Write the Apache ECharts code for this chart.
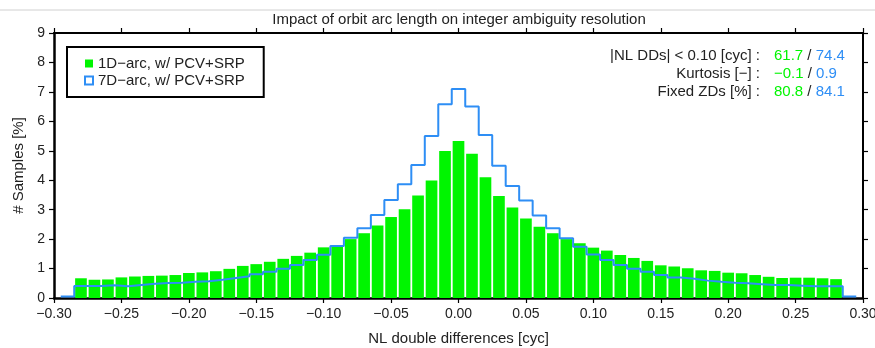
<!DOCTYPE html>
<html>
<head>
<meta charset="utf-8">
<script src="https://cdn.jsdelivr.net/npm/echarts@6/dist/echarts.min.js"></script>
<style>html,body{margin:0;padding:0;background:#fff;}#c{width:875px;height:348px;}</style>
</head>
<body>
<div id="c"></div>
<script>
// Bin centres (cyc) and sample percentages
const binWidth = 0.01;
const centers1D = [-0.28,-0.27,-0.26,-0.25,-0.24,-0.23,-0.22,-0.21,-0.20,-0.19,-0.18,-0.17,-0.16,-0.15,-0.14,-0.13,-0.12,-0.11,-0.10,-0.09,-0.08,-0.07,-0.06,-0.05,-0.04,-0.03,-0.02,-0.01,0.00,0.01,0.02,0.03,0.04,0.05,0.06,0.07,0.08,0.09,0.10,0.11,0.12,0.13,0.14,0.15,0.16,0.17,0.18,0.19,0.20,0.21,0.22,0.23,0.24,0.25,0.26,0.27,0.28];
const values1D = [0.67,0.62,0.63,0.70,0.73,0.75,0.76,0.78,0.85,0.87,0.91,0.99,1.09,1.15,1.23,1.33,1.43,1.54,1.72,1.76,2.00,2.20,2.46,2.75,3.01,3.48,3.99,4.99,5.33,4.90,4.10,3.46,3.07,2.70,2.42,2.20,2.00,1.86,1.71,1.61,1.46,1.36,1.26,1.11,1.07,1.01,0.94,0.92,0.86,0.84,0.78,0.72,0.68,0.69,0.69,0.67,0.64];
const centers7D = [-0.29,-0.28,-0.27,-0.26,-0.25,-0.24,-0.23,-0.22,-0.21,-0.20,-0.19,-0.18,-0.17,-0.16,-0.15,-0.14,-0.13,-0.12,-0.11,-0.10,-0.09,-0.08,-0.07,-0.06,-0.05,-0.04,-0.03,-0.02,-0.01,0.00,0.01,0.02,0.03,0.04,0.05,0.06,0.07,0.08,0.09,0.10,0.11,0.12,0.13,0.14,0.15,0.16,0.17,0.18,0.19,0.20,0.21,0.22,0.23,0.24,0.25,0.26,0.27,0.28,0.29];
const values7D = [0.05,0.41,0.41,0.43,0.40,0.44,0.48,0.51,0.52,0.55,0.57,0.62,0.68,0.74,0.81,0.89,0.99,1.12,1.29,1.47,1.77,2.05,2.37,2.82,3.33,3.86,4.52,5.50,6.58,7.10,6.50,5.54,4.49,3.80,3.31,2.80,2.37,2.03,1.74,1.48,1.29,1.12,0.99,0.89,0.78,0.70,0.65,0.59,0.55,0.52,0.50,0.47,0.44,0.44,0.42,0.40,0.40,0.40,0.05];
const seriesNames = ['1D\u2212arc, w/ PCV+SRP', '7D\u2212arc, w/ PCV+SRP'];
const statLabels = ['|NL DDs| < 0.10 [cyc] :', 'Kurtosis [\u2212] :', 'Fixed ZDs [%] :'];
const stats1D = ['61.7', '\u22120.1', '80.8'];
const stats7D = ['74.4', '0.9', '84.1'];
const xTicks = {min: -0.30, max: 0.30, interval: 0.05};
const yTicks = {min: 0, max: 9, interval: 1};

const GREEN = '#00f500';
const BLUE = '#2e8ef5';
const FONT = 'Liberation Sans, Arial, Helvetica, sans-serif';

const barData = centers1D.map((c, i) => [c, values1D[i]]);
const stepData = [];
centers7D.forEach((c, i) => {
  stepData.push([c - binWidth / 2, values7D[i]]);
  stepData.push([c + binWidth / 2, values7D[i]]);
});

const fmtX = v => {
  const s = Math.abs(v).toFixed(2);
  return (v < -1e-9 ? '\u2212' : '') + s;
};

const chart = echarts.init(document.getElementById('c'), null, {renderer: 'canvas'});

const axisLineStyle = {color: '#000', width: 2.5};
const tickStyle = {color: '#000', width: 1.2};

const graphics = [
  {type: 'line', shape: {x1: 0, y1: 10, x2: 875, y2: 10}, style: {stroke: '#d0d0d0', lineWidth: 1}, silent: true}
];
statLabels.forEach((t, i) => {
  graphics.push({
    type: 'text', x: 760, y: 56 + i * 18,
    style: {text: t, fill: '#222', font: '15px ' + FONT, textAlign: 'right', textVerticalAlign: 'middle'}
  });
  graphics.push({
    type: 'text', x: 774, y: 56 + i * 18,
    style: {
      text: '{g|' + stats1D[i] + '}{k| / }{b|' + stats7D[i] + '}',
      font: '15px ' + FONT, textAlign: 'left', textVerticalAlign: 'middle',
      rich: {
        g: {fill: GREEN, font: '15px ' + FONT},
        k: {fill: '#222', font: '15px ' + FONT},
        b: {fill: BLUE, font: '15px ' + FONT}
      }
    }
  });
});

chart.setOption({
  animation: false,
  backgroundColor: '#fff',
  title: {
    text: 'Impact of orbit arc length on integer ambiguity resolution',
    left: 454, top: 7, textAlign: 'center',
    textStyle: {fontSize: 15, fontWeight: 'normal', color: '#222', fontFamily: FONT}
  },
  grid: {left: 54, right: 12, top: 33, bottom: 50, outerBoundsMode: 'none', containLabel: false},
  legend: {
    orient: 'vertical', left: 67, top: 47,
    padding: [9, 19, 9, 17], itemGap: 2, itemWidth: 8, itemHeight: 8, itemTextGap: 12,
    borderColor: '#000', borderWidth: 2, backgroundColor: '#fff',
    textStyle: {fontSize: 15, color: '#222', fontFamily: FONT},
    data: [
      {name: seriesNames[0], icon: 'rect', itemStyle: {color: GREEN}},
      {name: seriesNames[1], icon: 'rect', itemStyle: {color: '#fff', borderColor: BLUE, borderWidth: 2}}
    ]
  },
  xAxis: [
    {
      type: 'value', position: 'bottom', min: xTicks.min, max: xTicks.max, interval: xTicks.interval,
      name: 'NL double differences [cyc]', nameLocation: 'middle', nameGap: 33,
      nameTextStyle: {fontSize: 15, color: '#222', fontFamily: FONT},
      axisLine: {show: true, onZero: false, lineStyle: axisLineStyle},
      axisTick: {show: true, length: 5, lineStyle: tickStyle},
      axisLabel: {formatter: fmtX, fontSize: 14, color: '#222', fontFamily: FONT, margin: 9},
      splitLine: {show: false}
    },
    {
      type: 'value', position: 'top', min: xTicks.min, max: xTicks.max, interval: xTicks.interval,
      axisLine: {show: true, onZero: false, lineStyle: {color: '#000', width: 2}},
      axisTick: {show: true, length: 5, lineStyle: tickStyle},
      axisLabel: {show: false}, splitLine: {show: false}
    }
  ],
  yAxis: [
    {
      type: 'value', position: 'left', min: yTicks.min, max: yTicks.max, interval: yTicks.interval,
      name: '# Samples [%]', nameLocation: 'middle', nameGap: 27, nameRotate: 90,
      nameTextStyle: {fontSize: 15, color: '#222', fontFamily: FONT},
      axisLine: {show: true, onZero: false, lineStyle: axisLineStyle},
      axisTick: {show: true, length: 5, lineStyle: tickStyle},
      axisLabel: {fontSize: 14, color: '#222', fontFamily: FONT, margin: 9},
      splitLine: {show: false}
    },
    {
      type: 'value', position: 'right', min: yTicks.min, max: yTicks.max, interval: yTicks.interval,
      axisLine: {show: true, onZero: false, lineStyle: {color: '#000', width: 2}},
      axisTick: {show: true, length: 5, lineStyle: tickStyle},
      axisLabel: {show: false}, splitLine: {show: false}
    }
  ],
  series: [
    {
      name: seriesNames[0], type: 'custom', xAxisIndex: 0, yAxisIndex: 0,
      itemStyle: {color: GREEN},
      data: barData,
      encode: {x: 0, y: 1},
      renderItem: function (params, api) {
        const x = api.value(0), y = api.value(1);
        const p0 = api.coord([x - binWidth / 2, y]);
        const p1 = api.coord([x + binWidth / 2, 0]);
        return {
          type: 'rect',
          shape: {x: p0[0] + 0.9, y: p0[1], width: p1[0] - p0[0] - 1.8, height: p1[1] - p0[1]},
          style: {fill: GREEN}
        };
      },
      z: 2
    },
    {
      name: seriesNames[1], type: 'line', xAxisIndex: 0, yAxisIndex: 0,
      data: stepData, showSymbol: false, symbol: 'none',
      itemStyle: {color: BLUE},
      lineStyle: {color: BLUE, width: 2},
      z: 3
    }
  ],
  graphic: graphics
});
</script>
</body>
</html>
